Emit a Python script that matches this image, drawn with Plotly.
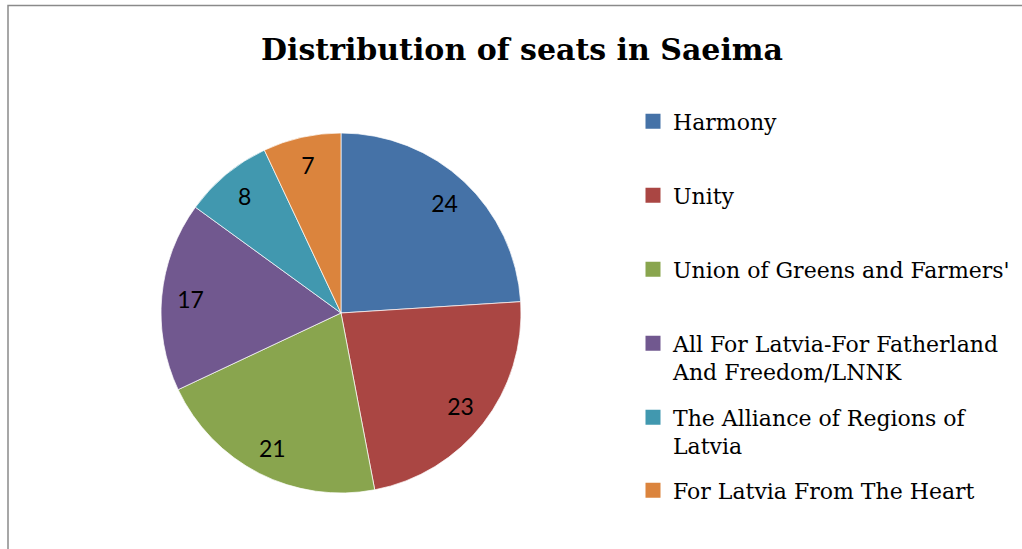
import plotly.graph_objects as go

# ---- data ----
parties = [
    "Harmony",
    "Unity",
    "Union of Greens and Farmers'",
    "All For Latvia-For Fatherland And Freedom/LNNK",
    "The Alliance of Regions of Latvia",
    "For Latvia From The Heart",
]
seats = [24, 23, 21, 17, 8, 7]
colors = ["#4572A7", "#AA4643", "#89A54E", "#71588F", "#4198AF", "#DB843D"]
legend_labels = [
    "Harmony",
    "Unity",
    "Union of Greens and Farmers'",
    "All For Latvia-For Fatherland<br>And Freedom/LNNK",
    "The Alliance of Regions of<br>Latvia",
    "For Latvia From The Heart",
]
title_text = "Distribution of seats in Saeima"

# ---- layout geometry (pixels) ----
W, H = 1022, 549
cx, cy, r = 341, 313, 180
dom_x = [(cx - r) / W, (cx + r) / W]
dom_y = [1 - (cy + r) / H, 1 - (cy - r) / H]
legend_centers = [121.5, 195.5, 269.5, 343.5, 417.5, 490.5]
legend_left = 633

fig = go.Figure()

# main pie
fig.add_trace(go.Pie(
    labels=parties, values=seats, sort=False, direction="clockwise", rotation=0,
    marker=dict(colors=colors, line=dict(color="rgba(255,255,255,0.7)", width=1)),
    textinfo="none", hoverinfo="label+value", showlegend=False,
    domain=dict(x=dom_x, y=dom_y),
))
# transparent overlay to place the value labels near the rim
fig.add_trace(go.Pie(
    labels=parties, values=seats, sort=False, direction="clockwise", rotation=0,
    hole=0.68,
    marker=dict(colors=["rgba(0,0,0,0)"] * len(seats), line=dict(width=0)),
    textinfo="value", textposition="inside", insidetextorientation="horizontal",
    textfont=dict(family="Lato", size=23, color="black"),
    hoverinfo="skip", showlegend=False,
    domain=dict(x=dom_x, y=dom_y),
))

# legend entries (one legend per entry for Excel-like spacing)
for i, (lab, col) in enumerate(zip(legend_labels, colors)):
    key = "legend" if i == 0 else f"legend{i + 1}"
    fig.add_trace(go.Scatter(
        x=[None], y=[None], mode="markers", name=lab,
        marker=dict(symbol="square", size=15, color=col),
        legend=key, showlegend=True, hoverinfo="skip",
    ))
    fig.update_layout({key: dict(
        x=legend_left / W, xanchor="left",
        y=1 - (legend_centers[i] - 21) / H, yanchor="top",
        valign="top", bgcolor="rgba(0,0,0,0)", borderwidth=0,
        font=dict(family="DejaVu Serif", size=22, color="black"),
    )})

fig.update_layout(
    width=W, height=H,
    margin=dict(l=0, r=0, t=0, b=0),
    paper_bgcolor="white", plot_bgcolor="rgba(0,0,0,0)",
    xaxis=dict(visible=False), yaxis=dict(visible=False),
    title=dict(
        text="<b>" + title_text + "</b>",
        x=522 / W, xanchor="center", y=1 - 49 / H, yanchor="middle",
        font=dict(family="DejaVu Serif", size=30, color="black"),
    ),
    shapes=[dict(
        type="rect", xref="paper", yref="paper",
        x0=8 / W, x1=1.2, y0=-0.2, y1=1 - 5.5 / H,
        line=dict(color="#8a8a8a", width=1.5), fillcolor="rgba(0,0,0,0)",
    )],
)

fig.write_html(
    "out.html",
    config={"displayModeBar": False},
    post_script="document.body.style.margin='0';",
)
